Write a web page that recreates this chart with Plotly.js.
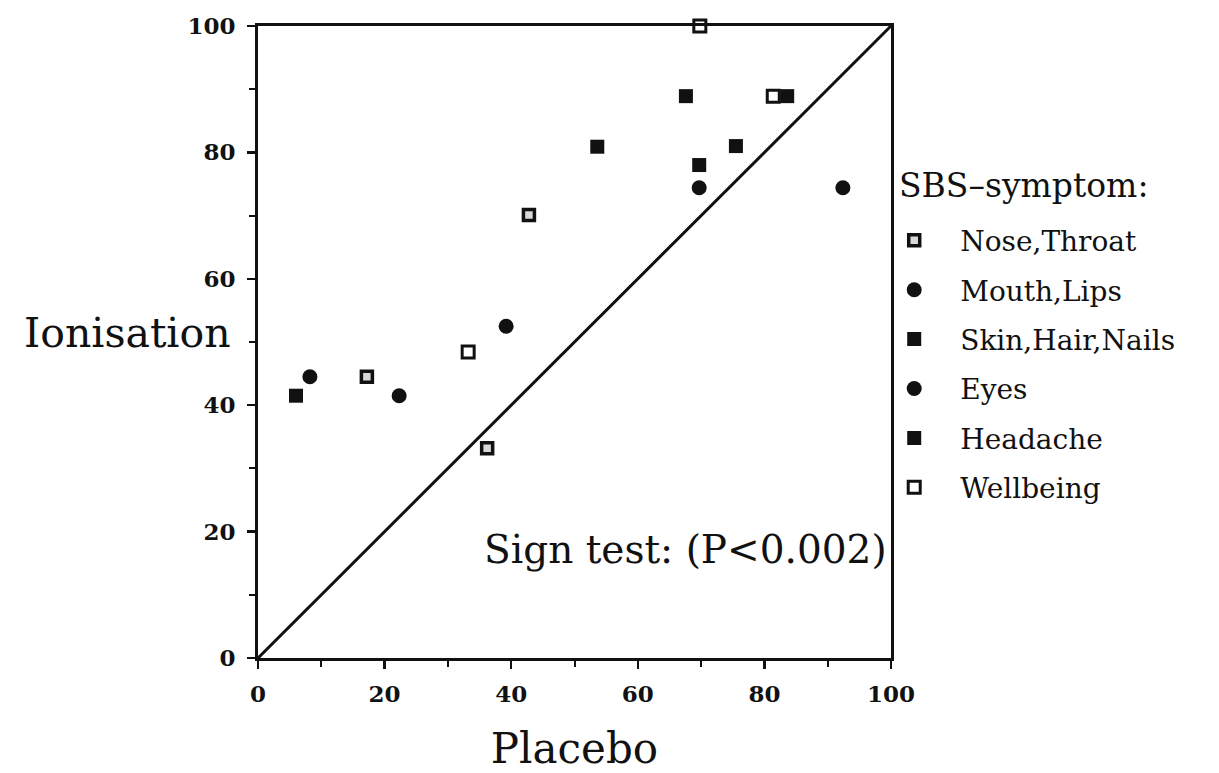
<!DOCTYPE html>
<html>
<head>
<meta charset="utf-8">
<script src="https://cdn.plot.ly/plotly-3.0.1.min.js"></script>
<style>html,body{margin:0;padding:0;background:#fff;}#chart{width:1219px;height:773px;}</style>
</head>
<body>
<div id="chart"></div>
<script>
// Data (Placebo % vs Ionisation %)
const noseX = [17.2, 36.2, 42.8];
const noseY = [44.5, 33.2, 70.1];
const mouthX = [8.2, 39.2, 69.7];
const mouthY = [44.5, 52.5, 74.4];
const skinX = [53.6, 69.7, 75.5];
const skinY = [80.9, 78.0, 81.0];
const eyesX = [22.3, 92.4];
const eyesY = [41.5, 74.4];
const headX = [6.0, 67.6, 83.6];
const headY = [41.5, 88.9, 88.9];
const wellX = [33.2, 69.8, 81.4];
const wellY = [48.4, 100, 88.9];
const names = ["Nose,Throat", "Mouth,Lips", "Skin,Hair,Nails", "Eyes", "Headache", "Wellbeing"];
const tickVals = [0, 20, 40, 60, 80, 100];

const serif = "DejaVu Serif, Liberation Serif, serif";
const mk = (x, y, name, marker, i) => ({
  type: "scatter", mode: "markers", x: x, y: y, name: name,
  legendgroup: "g" + i, marker: marker, cliponaxis: false
});
const traces = [
  mk(noseX, noseY, names[0], {symbol: "square", size: 11, color: "#d8d8d8", line: {color: "#111", width: 3.5}}, 0),
  mk(mouthX, mouthY, names[1], {symbol: "circle", size: 15, color: "#111", line: {width: 0}}, 1),
  mk(skinX, skinY, names[2], {symbol: "square", size: 14, color: "#111", line: {width: 0}}, 2),
  mk(eyesX, eyesY, names[3], {symbol: "circle", size: 15, color: "#111", line: {width: 0}}, 3),
  mk(headX, headY, names[4], {symbol: "square", size: 14, color: "#111", line: {width: 0}}, 4),
  mk(wellX, wellY, names[5], {symbol: "square", size: 12, color: "#fff", line: {color: "#111", width: 3}}, 5)
];

const axisCommon = {
  range: [0, 100], tickvals: tickVals, ticks: "outside", ticklen: 8, tickwidth: 2.5,
  tickcolor: "#111", showline: true, linecolor: "#111", linewidth: 3, mirror: true,
  showgrid: false, zeroline: false, fixedrange: true,
  tickfont: {family: "DejaVu Serif, serif", size: 23, color: "#111", weight: "bold"},
  minor: {dtick: 10, ticks: "outside", ticklen: 6, tickwidth: 2, tickcolor: "#111", showgrid: false}
};

const layout = {
  width: 1219, height: 773,
  margin: {l: 258, r: 328, t: 26, b: 115},
  paper_bgcolor: "#fff", plot_bgcolor: "#fff",
  showlegend: true,
  xaxis: Object.assign({}, axisCommon, {
    ticklabelstandoff: 5,
    title: {text: "Placebo", font: {family: serif, size: 42, color: "#111"}, standoff: 38}
  }),
  yaxis: Object.assign({}, axisCommon, {ticklabelstandoff: 7}),
  legend: {
    x: 0.964, xanchor: "left", y: 0.70, yanchor: "top",
    bgcolor: "rgba(0,0,0,0)", borderwidth: 0, itemwidth: 82,
    font: {family: serif, size: 28, color: "#111"},
    traceorder: "grouped", tracegroupgap: 10, itemclick: false, itemdoubleclick: false
  },
  shapes: [{type: "line", xref: "x", yref: "y", x0: 0, y0: 0, x1: 100, y1: 100,
            line: {color: "#111", width: 3}}],
  annotations: [
    {text: "Ionisation", xref: "paper", yref: "paper", x: -0.04, y: 0.515,
     xanchor: "right", yanchor: "middle", showarrow: false,
     font: {family: serif, size: 41, color: "#111"}},
    {text: "SBS–symptom:", xref: "paper", yref: "paper", x: 1.01, y: 0.748,
     xanchor: "left", yanchor: "middle", showarrow: false,
     font: {family: serif, size: 33, color: "#111"}},
    {text: "Sign test: (P<0.002)", xref: "x", yref: "y", x: 99.7, y: 17.2,
     xanchor: "right", yanchor: "middle", showarrow: false,
     font: {family: serif, size: 39, color: "#111"}}
  ]
};

Plotly.newPlot("chart", traces, layout, {displayModeBar: false, staticPlot: true});
</script>
</body>
</html>
